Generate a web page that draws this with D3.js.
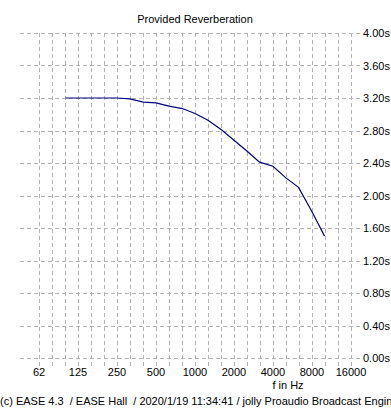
<!DOCTYPE html>
<html><head><meta charset="utf-8">
<script src="https://cdn.jsdelivr.net/npm/d3@7"></script>
<style>
html,body{margin:0;padding:0;background:#fff;overflow:hidden;}
text{font-family:"Liberation Sans",Arial,sans-serif;fill:#000;}
</style></head>
<body>
<svg id="c" width="391" height="411"></svg>
<script>
const title = "Provided Reverberation";
const frequencies = [100,125,160,200,250,315,400,500,630,800,1000,1250,1600,2000,2500,3150,4000,5000,6300,8000,10000];
const rt60 = [3.20,3.20,3.20,3.20,3.20,3.19,3.15,3.14,3.10,3.07,3.01,2.93,2.81,2.68,2.55,2.41,2.36,2.22,2.10,1.80,1.50];
const xTickValues = [62.5,125,250,500,1000,2000,4000,8000,16000];
const xTickLabels = ["62","125","250","500","1000","2000","4000","8000","16000"];
const yTickValues = [0,0.4,0.8,1.2,1.6,2.0,2.4,2.8,3.2,3.6,4.0];
const xAxisTitle = "f in Hz";
const footer = "(c) EASE 4.3  / EASE Hall  / 2020/1/19 11:34:41 / jolly Proaudio Broadcast Engine";

const svg = d3.select("#c");
const x = d3.scaleLog().base(2).domain([62.5,16000]).range([39,351]);
const y = d3.scaleLinear().domain([0,4]).range([358,33]);
const gridLeft = 20, gridRight = 361;

// third-octave grid positions
const gridFreqs = d3.range(0,25).map(k => 62.5*Math.pow(2,k/3));
const g = svg.append("g").attr("shape-rendering","crispEdges");
g.selectAll(".v").data(gridFreqs).join("line")
  .attr("x1",d=>Math.round(x(d))+0.5).attr("x2",d=>Math.round(x(d))+0.5)
  .attr("y1",y(4)).attr("y2",367)
  .attr("stroke","#b4b4b4").attr("stroke-dasharray","4,3");
g.selectAll(".h").data(yTickValues).join("line")
  .attr("x1",gridLeft).attr("x2",gridRight)
  .attr("y1",d=>Math.round(y(d))+0.5).attr("y2",d=>Math.round(y(d))+0.5)
  .attr("stroke","#b4b4b4").attr("stroke-dasharray","4,3");

// y labels on right
svg.selectAll(".yl").data(yTickValues).join("text")
  .attr("x",363).attr("y",d=>y(d)+4)
  .attr("font-size","11px")
  .text(d=>d.toFixed(2)+"s");

// x labels
svg.selectAll(".xl").data(xTickValues).join("text")
  .attr("x",d=>x(d)).attr("y",376).attr("text-anchor","middle")
  .attr("font-size","11px")
  .text((d,i)=>xTickLabels[i]);

svg.append("text").attr("x",288).attr("y",389).attr("text-anchor","middle")
  .attr("font-size","11px").text(xAxisTitle);

svg.append("text").attr("x",195).attr("y",23).attr("text-anchor","middle")
  .attr("font-size","11px").text(title);

svg.append("text").attr("x",0).attr("y",405)
  .attr("font-size","11px").style("white-space","pre")
  .text(footer);

// curve
const line = d3.line().x((d,i)=>x(frequencies[i])).y(d=>y(d));
svg.append("path").datum(rt60).attr("d",line)
  .attr("fill","none").attr("stroke","#000080").attr("stroke-width",1.2);
</script>
</body></html>
